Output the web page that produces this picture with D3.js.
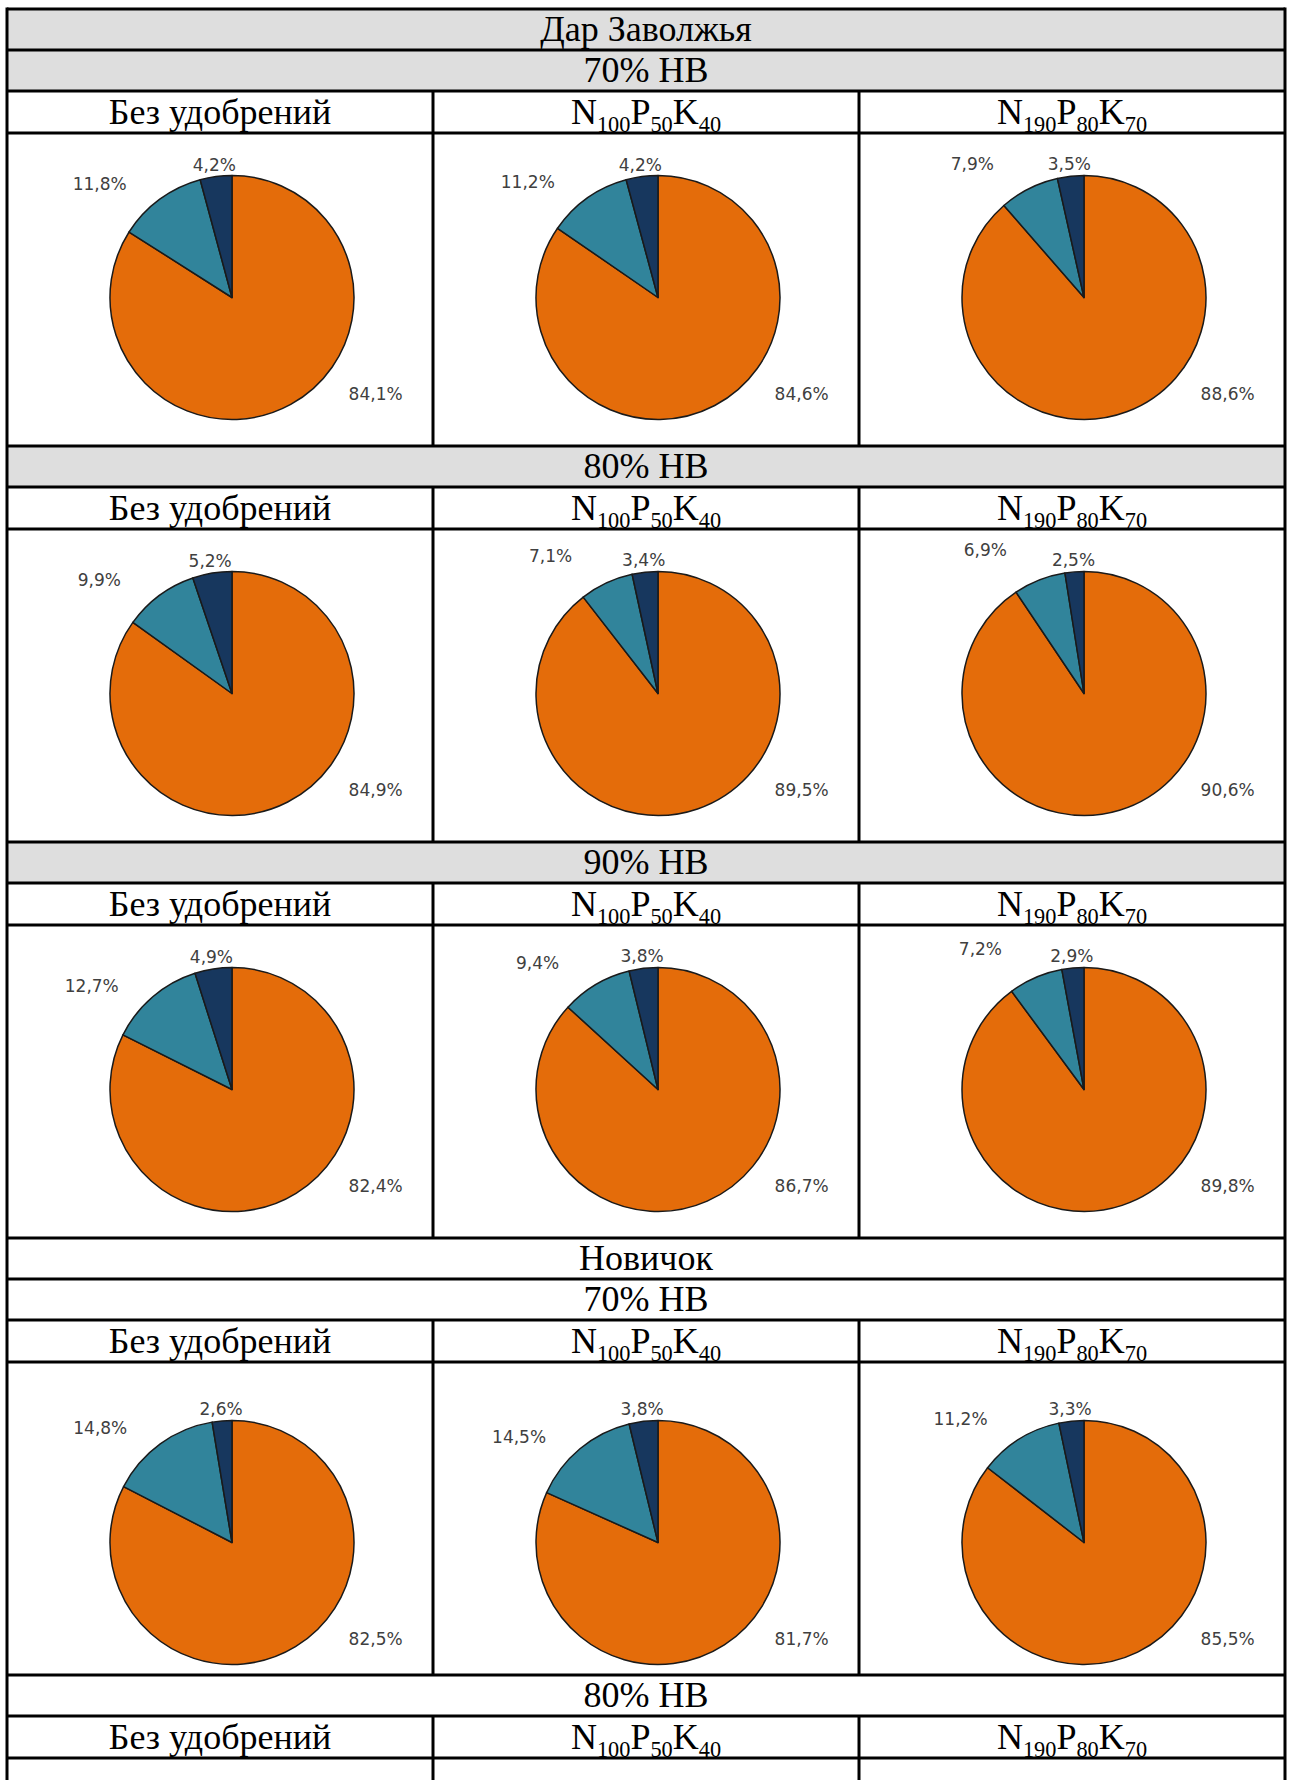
<!DOCTYPE html>
<html><head><meta charset="utf-8">
<script src="https://cdn.jsdelivr.net/npm/d3@7"></script>
<style>html,body{margin:0;padding:0;background:#fff;}</style>
</head><body>
<svg id="chart" width="1291" height="1780"></svg>
<script>
// ---------- data ----------
const varieties = ["Дар Заволжья", "Новичок"];
const moistureLevels = ["70% НВ", "80% НВ", "90% НВ"];
// treatment labels: pairs of [element, subscript]
const treatmentNone = "Без удобрений";
const treatmentLow = [["N", "100"], ["P", "50"], ["K", "40"]];
const treatmentHigh = [["N", "190"], ["P", "80"], ["K", "70"]];
const treatments = [treatmentNone, treatmentLow, treatmentHigh];
const fractions = ["Фракция 1", "Фракция 2", "Фракция 3"];
// shares, % (per treatment: [fraction1, fraction2, fraction3])
const darZavolzhya70 = [[84.1, 11.8, 4.2], [84.6, 11.2, 4.2], [88.6, 7.9, 3.5]];
const darZavolzhya80 = [[84.9, 9.9, 5.2], [89.5, 7.1, 3.4], [90.6, 6.9, 2.5]];
const darZavolzhya90 = [[82.4, 12.7, 4.9], [86.7, 9.4, 3.8], [89.8, 7.2, 2.9]];
const novichok70 = [[82.5, 14.8, 2.6], [81.7, 14.5, 3.8], [85.5, 11.2, 3.3]];
const novichok80 = null; // pies lie below the visible area

const sections = [
  { variety: 0, moisture: 0, values: darZavolzhya70 },
  { variety: 0, moisture: 1, values: darZavolzhya80 },
  { variety: 0, moisture: 2, values: darZavolzhya90 },
  { variety: 1, moisture: 0, values: novichok70 },
  { variety: 1, moisture: 1, values: novichok80 }
];

// ---------- layout / style ----------
const W = 1291, H = 1780;
const tLeft = 7, tRight = 1285, tTop = 9;
const hTitle = 41, hMoist = 41, hTreat = 42, hPie = 313;
const headerFill = ["#dedede", "#ffffff"];
const sliceColors = ["#e46c0a", "#31849b", "#17375e"];
const lineW = 3;
const serif = "'Liberation Serif', 'Times New Roman', serif";
const fontSize = 36;
const pieR = 122;
const pieOffsetX = 12;
const pieOffsetY = [8, 24]; // per variety block

const svg = d3.select("#chart");
const colX = d3.scaleBand().domain(d3.range(3)).range([tLeft, tRight]);

// build rows
const rows = [];
let yCur = tTop;
let lastVariety = -1;
sections.forEach(s => {
  if (s.variety !== lastVariety) {
    rows.push({ type: "title", y: yCur, h: hTitle, text: varieties[s.variety], fill: headerFill[s.variety] });
    yCur += hTitle; lastVariety = s.variety;
  }
  rows.push({ type: "moist", y: yCur, h: hMoist, text: moistureLevels[s.moisture], fill: headerFill[s.variety] });
  yCur += hMoist;
  rows.push({ type: "treat", y: yCur, h: hTreat });
  yCur += hTreat;
  const ph = s.values ? hPie : Math.max(hPie, H - yCur + 10);
  rows.push({ type: "pie", y: yCur, h: ph, values: s.values, variety: s.variety });
  yCur += ph;
});

const gFill = svg.append("g");
const gContent = svg.append("g");
const gLines = svg.append("g").attr("stroke", "#000").attr("stroke-width", lineW).attr("fill", "none");

function serifText(g, x, yMid, txt) {
  const t = g.append("text")
    .attr("x", x).attr("y", yMid + fontSize * 0.33)
    .attr("text-anchor", "middle")
    .attr("font-family", serif).attr("font-size", fontSize).attr("fill", "#000");
  if (typeof txt === "string") {
    t.text(txt);
  } else {
    const shift = fontSize * 0.22;
    txt.forEach(([el, sub], k) => {
      t.append("tspan").attr("dy", k === 0 ? 0 : -shift).text(el);
      t.append("tspan").attr("font-size", fontSize * 0.62).attr("dy", shift).text(sub);
    });
  }
  return t;
}

const pie = d3.pie().sort(null).value(d => d);
const arc = d3.arc().innerRadius(0).outerRadius(pieR);
const fmt = v => d3.format(".1f")(v).replace(".", ",") + "%";
const deg = Math.PI / 180;

function labelPos(d, i) {
  const centroidA = (d.startAngle + d.endAngle) / 2;
  let a, dist;
  if (i === 0) { a = 124 * deg; dist = 1.42 * pieR; }
  else if (i === 1) { a = centroidA - 13 * deg; dist = 1.43 * pieR; }
  else { a = centroidA; dist = 1.1 * pieR; }
  return [Math.sin(a) * dist, -Math.cos(a) * dist];
}

rows.forEach(r => {
  const bottom = Math.min(r.y + r.h, H + 10);
  if (r.type === "title" || r.type === "moist") {
    gFill.append("rect").attr("x", tLeft).attr("y", r.y).attr("width", tRight - tLeft).attr("height", r.h).attr("fill", r.fill);
    serifText(gContent, (tLeft + tRight) / 2, r.y + r.h / 2, r.text);
  } else if (r.type === "treat") {
    treatments.forEach((t, c) => serifText(gContent, colX(c) + colX.bandwidth() / 2, r.y + r.h / 2, t));
  } else if (r.type === "pie" && r.values) {
    r.values.forEach((vals, c) => {
      const cx = colX(c) + colX.bandwidth() / 2 + pieOffsetX;
      const cy = r.y + r.h / 2 + pieOffsetY[r.variety];
      const g = gContent.append("g").attr("transform", `translate(${cx},${cy})`);
      const arcs = pie(vals);
      g.selectAll("path").data(arcs).join("path")
        .attr("d", arc)
        .attr("fill", (d, i) => sliceColors[i])
        .attr("stroke", "#1a1a1a").attr("stroke-width", 1.5).attr("stroke-linejoin", "round");
      g.selectAll("text").data(arcs).join("text")
        .attr("transform", (d, i) => `translate(${labelPos(d, i)})`)
        .attr("text-anchor", "middle").attr("dy", "0.36em")
        .attr("font-family", "'DejaVu Sans', Verdana, sans-serif").attr("font-size", 17)
        .attr("fill", "#404040")
        .text(d => fmt(d.data));
    });
  }
  gLines.append("line").attr("x1", tLeft).attr("x2", tRight).attr("y1", r.y).attr("y2", r.y);
  if (r.type === "treat" || r.type === "pie") {
    [1, 2].forEach(c => gLines.append("line").attr("x1", colX(c)).attr("x2", colX(c)).attr("y1", r.y).attr("y2", bottom));
  }
});
gLines.append("line").attr("x1", tLeft).attr("x2", tLeft).attr("y1", tTop - lineW / 2).attr("y2", H + 10);
gLines.append("line").attr("x1", tRight).attr("x2", tRight).attr("y1", tTop - lineW / 2).attr("y2", H + 10);
</script>
</body></html>
